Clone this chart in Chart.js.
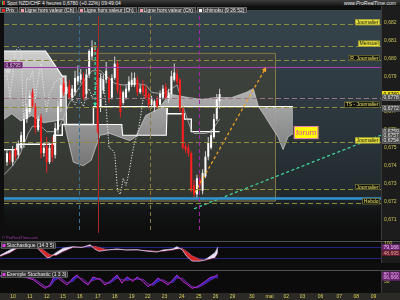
<!DOCTYPE html>
<html lang="fr">
<head>
<meta charset="UTF-8" />
<title>Spot NZD/CHF 4 heures</title>
<script src="https://cdn.jsdelivr.net/npm/chart.js"></script>
<style>
  body { margin: 0; width: 400px; height: 300px; overflow: hidden; background: #0e0e0e;
         font-family: "Liberation Sans", Arial, sans-serif; position: relative; }
  canvas { position: absolute; left: 0; }
  #mainChart { top: 6px; }
  #stochChart { top: 241px; }
  #exampleChart { top: 270px; }
  .titlebar { position: absolute; top: 0; left: 0; width: 400px; height: 6px; z-index: 2;
              background: linear-gradient(#3d3d3d, #141414); color: #f2f2f2; font-size: 5px; line-height: 6px; }
  .titlebar .ico { display: inline-block; width: 3px; height: 4px; margin: 1px 2px 0 2px; vertical-align: top;
                   background: linear-gradient(90deg, #2fbf3a 50%, #e03030 50%); }
  .titlebar .site { position: absolute; right: 4px; top: 0; font-style: italic; }
  .legend { position: absolute; top: 7px; left: 0; height: 5px; z-index: 2; display: flex; gap: 1px; }
  .legend span { display: flex; align-items: center; height: 4px; padding: 0 2px 0 1px; background: #3b3d3e;
                 border: 0.5px solid #6a6a6a; color: #ececec; font-size: 5px; white-space: nowrap; }
  .legend i { display: inline-block; width: 3px; height: 3px; margin-right: 1px; }
  .copy { position: absolute; left: 2px; top: 235px; z-index: 2; color: #a03aa8; font-size: 4px; }
</style>
</head>
<body>
<div class="titlebar"><b class="ico"></b>Spot NZD/CHF 4 heures 0,6780 (+0.22%) 09:49:04<span class="site">www.ProRealTime.com</span></div>
<canvas id="mainChart" width="400" height="234"></canvas>
<div class="legend">
  <span><i style="background:#e02020"></i>Prix</span>
  <span><i style="background:#f0a0a8"></i>Ligne hors valeur (Ch)</span>
  <span><i style="background:#f0a0a8"></i>Ligne hors valeur (Ch)</span>
  <span><i style="background:#f0a0a8"></i>Ligne hors valeur (Ch)</span>
  <span><i style="background:#ffffff"></i>Ichimoku (9 26 52)</span>
</div>
<div class="copy">© ProRealTime.com</div>
<canvas id="stochChart" width="400" height="29"></canvas>
<canvas id="exampleChart" width="400" height="30"></canvas>

<script>
  // ---- data (bar index = one 4 hour candle) ----
  const dayLabels = ["10","11","12","15","16","17","18","19","22","23","24","25","26","29","30","mai","02","03","06","07","08","09"];
  const dayTickIdx = [3.5,9.4,15.3,20.9,26.8,33.1,39,44.9,50.5,56.4,62.4,68.3,74.2,80.1,86.8,93,98.9,104.5,110.8,117.4,123.3,129.3];

  const candleOpen = [
    0.6742,0.6747,0.6742,0.6749,0.6746,0.6750,0.6753,0.6766,0.6770,0.6781,
    0.6773,0.6760,0.6767,0.6747,0.6751,0.6742,0.6752,0.6746,0.6760,0.6773,
    0.6786,0.6780,0.6785,0.6778,0.6781,0.6787,0.6788,0.6789,0.6780,0.6791,
    0.6801,0.6806,0.6804,0.6773,0.6782,0.6788,0.6788,0.6778,0.6789,0.6797,
    0.6782,0.6775,0.6778,0.6782,0.6785,0.6785,0.6788,0.6781,0.6785,0.6783,
    0.6780,0.6774,0.6773,0.6777,0.6774,0.6778,0.6784,0.6777,0.6780,0.6788,
    0.6791,0.6788,0.6772,0.6751,0.6750,0.6747,0.6729,0.6724,0.6733,0.6726,
    0.6734,0.6745,0.6750,0.6756,0.6766,0.6776];
  const candleClose = [
    0.6747,0.6743,0.6749,0.6745,0.6752,0.6757,0.6766,0.6772,0.6779,0.6773,
    0.6761,0.6766,0.6747,0.6750,0.6742,0.6750,0.6745,0.6761,0.6773,0.6785,
    0.6781,0.6784,0.6778,0.6783,0.6789,0.6790,0.6791,0.6778,0.6791,0.6804,
    0.6806,0.6804,0.6759,0.6789,0.6788,0.6793,0.6777,0.6789,0.6797,0.6782,
    0.6770,0.6781,0.6783,0.6787,0.6788,0.6789,0.6781,0.6783,0.6781,0.6778,
    0.6774,0.6777,0.6776,0.6773,0.6780,0.6783,0.6778,0.6781,0.6790,0.6792,
    0.6787,0.6772,0.6750,0.6749,0.6747,0.6726,0.6724,0.6733,0.6729,0.6736,
    0.6745,0.6753,0.6757,0.6766,0.6777,0.6780];
  const candleHigh = [
    0.6749,0.6748,0.6751,0.6750,0.6754,0.6759,0.6769,0.6775,0.6782,0.6783,
    0.6775,0.6768,0.6769,0.6753,0.6756,0.6753,0.6756,0.6764,0.6776,0.6789,
    0.6789,0.6787,0.6788,0.6785,0.6793,0.6796,0.6794,0.6792,0.6794,0.6805,
    0.6810,0.6809,0.6806,0.6791,0.6791,0.6798,0.6790,0.6791,0.6801,0.6799,
    0.6785,0.6782,0.6785,0.6790,0.6792,0.6792,0.6790,0.6785,0.6788,0.6785,
    0.6781,0.6779,0.6777,0.6779,0.6782,0.6785,0.6786,0.6783,0.6793,0.6797,
    0.6794,0.6789,0.6773,0.6753,0.6752,0.6748,0.6732,0.6735,0.6735,0.6738,
    0.6748,0.6756,0.6760,0.6769,0.6780,0.6783];
  const candleLow = [
    0.6740,0.6741,0.6740,0.6743,0.6744,0.6749,0.6750,0.6764,0.6769,0.6772,
    0.6758,0.6759,0.6744,0.6745,0.6736,0.6741,0.6742,0.6744,0.6758,0.6770,
    0.6779,0.6778,0.6777,0.6776,0.6779,0.6785,0.6786,0.6777,0.6777,0.6789,
    0.6799,0.6802,0.6758,0.6770,0.6780,0.6786,0.6775,0.6777,0.6788,0.6780,
    0.6767,0.6774,0.6777,0.6781,0.6784,0.6784,0.6779,0.6780,0.6779,0.6777,
    0.6772,0.6772,0.6770,0.6772,0.6773,0.6777,0.6777,0.6775,0.6778,0.6787,
    0.6785,0.6770,0.6749,0.6747,0.6745,0.6725,0.6721,0.6722,0.6726,0.6724,
    0.6733,0.6743,0.6749,0.6755,0.6765,0.6772];

  // Ichimoku lines, [bar index, price]
  const tenkan = [[-1.05,0.6735],[2,0.6740],[4.5,0.6746],[6,0.6752],[7.5,0.6758],[9,0.6762],[12,0.6762],[14,0.6759],
    [17,0.6759],[18.5,0.6762],[20,0.6767],[22,0.6775],[26,0.6785],[29,0.6791],[30,0.6793],[33,0.6793],[35,0.6790],
    [38,0.6786],[41,0.6785],[45,0.6786],[49,0.6785],[51,0.6781],[55,0.6780],[58,0.6783],[60,0.6785],[61.5,0.6777],
    [62.5,0.6771],[65,0.6760],[66,0.6758],[70,0.6758],[72,0.6759],[75,0.6766]];
  const kijun = [[-1.05,0.6749],[3.5,0.6749],[3.5,0.6752],[16.5,0.6752],[16.5,0.6757],[19.5,0.6757],[19.5,0.6763],
    [30.5,0.6763],[30.5,0.6773],[56.5,0.6773],[56.5,0.6769],[62.5,0.6769],[62.5,0.6766],[65,0.6766],[65,0.6759],[75,0.6759]];
  const spanA = [[-1.05,0.6766],[1.7,0.6769],[4.9,0.6765],[8.7,0.6768],[12.9,0.6764],[17.1,0.6765],[19.9,0.6766],
    [21.3,0.6756],[23.4,0.6742],[26.9,0.6740],[29.7,0.6743],[32.8,0.6757],[36.3,0.6758],[39.8,0.6756],[43.3,0.6754],
    [45.4,0.6756],[48.9,0.6768],[53.7,0.6772],[57.2,0.6780],[64.2,0.6778],[68.8,0.6777],[73.3,0.6778],[79.2,0.6778],
    [84.5,0.6781],[86.9,0.6783],[88.7,0.6773],[90.8,0.6768],[93.2,0.6762],[95.6,0.6756],[97.4,0.6749],[99.1,0.6756],[100.9,0.6758]];
  const spanB = [[-1.05,0.6804],[13.6,0.6804],[19.5,0.6790],[20.8,0.6790],[21,0.6763],[40.5,0.6763],[40.8,0.6757],
    [56.2,0.6757],[56.5,0.6773],[100.9,0.6773]];
  const chikouShift = 26;

  // drawings on the price panel
  const levelValues = [0.6819, 0.6807, 0.6799, 0.6795, 0.6778, 0.6773, 0.6753, 0.6727, 0.6722, 0.6719];
  const levelNames = ["Journalier", "Mensuel", "R. Journalier", "", "", "TS - Journalier", "Journalier", "Journalier", "", "Hebdo"];
  const levelKinds = ["pivot", "pivot", "pivot", "alert", "cost", "pivot", "pivot", "pivot", "support", "pivot"];
  const vLineIdx = [25.3, 32, 50.6, 67.7];
  const zoneIdx = [-1.05, 94.9];
  const zonePrice = [0.6720, 0.6803];
  const orangeArrow = [[66.3, 0.6725], [91.4, 0.6795]];
  const greenTrend = [[66, 0.6716], [131.9, 0.6757]];
  const cyanArrow = [[31.1, 0.6809], [31.1, 0.6773]];
  const cursorDot = [[0.35, 0.6793]];
  const forumIdx = 101.2, forumPrice = 0.67585;
  const priceTicks = [0.671,0.672,0.673,0.674,0.675,0.676,0.677,0.678,0.679,0.680,0.681,0.682];
  const axisMarks = [0.6780, 0.6778, 0.6772, 0.6759, 0.6757, 0.6754];

  // oscillators, [bar index, value]
  const stochK = [[-1.05,36],[2.4,64],[4.9,84],[9.4,86],[11.9,76],[14,45],[15.4,24],[16.4,26],[18.5,50],[21,74],
    [24.4,82],[27.6,78],[30.4,92],[32,70],[33.5,58],[36.3,64],[39.8,70],[43.3,64],[46.8,66],[50.3,58],[53.8,54],
    [55.8,64],[59.3,70],[60.7,82],[62.5,66],[64.2,30],[66,6],[68.8,6],[70.5,12],[74,50],[75,79.166]];
  const stochD = [[-1.05,30],[2.4,50],[4.9,72],[9.4,84],[11.9,82],[14,66],[15.4,50],[16.4,40],[18.5,36],[21,56],
    [24.4,78],[27.6,80],[30.4,84],[32,84],[33.5,78],[36.3,66],[39.8,66],[43.3,66],[46.8,65],[50.3,62],[53.8,58],
    [55.8,58],[59.3,64],[60.7,70],[62.5,72],[64.2,56],[66,34],[68.8,14],[70.5,10],[74,24],[75,48.695]];
  const exFast = [[-1.05,75],[2,75],[5,72],[7.5,70],[10.5,58],[12.9,35],[14.7,20],[16.4,35],[18.1,78],[19.9,58],
    [22.3,35],[24.4,65],[25.8,78],[27.9,50],[29.7,35],[31.4,70],[33.9,58],[35.6,35],[37.3,50],[39.8,78],[41.5,43],
    [43.3,70],[45.4,50],[46.8,70],[48.9,50],[50.6,27],[52.4,43],[54.1,65],[55.8,50],[57.6,35],[59.3,58],[60.7,78],
    [62.8,50],[64.2,38],[66,20],[67.7,27],[68.8,35],[70.5,50],[72.3,67],[74,73],[75,80]];
  const exSlow = [[-1.05,72],[2,74],[5,74],[7.5,72],[10.5,64],[12.9,45],[14.7,28],[16.4,28],[18.1,55],[19.9,68],
    [22.3,45],[24.4,50],[25.8,68],[27.9,62],[29.7,42],[31.4,55],[33.9,64],[35.6,45],[37.3,42],[39.8,65],[41.5,58],
    [43.3,55],[45.4,60],[46.8,60],[48.9,60],[50.6,40],[52.4,33],[54.1,50],[55.8,58],[57.6,45],[59.3,45],[60.7,65],
    [62.8,64],[64.2,45],[66,28],[67.7,22],[68.8,28],[70.5,40],[72.3,55],[74,66],[75,66.666]];

  // ---- layout / style ----
  const xMin = -1.05, xMax = 131.93;
  const AXIS_W = 19;
  const FONT = '"Liberation Sans", Arial, sans-serif';
  Chart.defaults.font.family = FONT;
  Chart.defaults.animation = false;
  Chart.defaults.events = [];
  Chart.defaults.plugins.legend.display = false;
  Chart.defaults.plugins.tooltip.enabled = false;

  const levelStyles = {
    pivot: { color: "#8f8c3a", dash: [5, 3], width: 1 },
    alert: { color: "#a83cb4", dash: [], width: 1 },
    cost: { color: "#9a7484", dash: [5, 3], width: 1 },
    support: { color: "#2f93d4", dash: [], width: 2.5 }
  };
  const tagDark = [false, false, true, false, false, true, false, true, false, true];
  const vLineStyles = [
    { color: "#3b6e8f", dash: [4, 3] }, { color: "#a82a2a", dash: [] },
    { color: "#8a7a3c", dash: [4, 3] }, { color: "#a424a8", dash: [4, 3] }
  ];

  const pts = arr => arr.map(p => ({ x: p[0], y: p[1] }));
  const fmt = (v, d) => v.toFixed(d).replace(".", ",");

  function tag(ctx, text, x, yTop, h, bg, fg, border, alignRight, size) {
    ctx.font = (size || 5) + "px " + FONT;
    const w = ctx.measureText(text).width + 3;
    const x0 = alignRight ? x - w : x;
    ctx.fillStyle = bg;
    ctx.fillRect(x0, yTop, w, h);
    if (border) {
      ctx.strokeStyle = border;
      ctx.lineWidth = 0.6;
      ctx.strokeRect(x0 + 0.3, yTop + 0.3, w - 0.6, h - 0.6);
    }
    ctx.fillStyle = fg;
    ctx.textAlign = "left";
    ctx.textBaseline = "middle";
    ctx.fillText(text, x0 + 1.5, yTop + h / 2 + 0.4);
    return w;
  }

  function arrowHead(ctx, x0, y0, x1, y1, size, color) {
    const a = Math.atan2(y1 - y0, x1 - x0);
    ctx.fillStyle = color;
    ctx.beginPath();
    ctx.moveTo(x1, y1);
    ctx.lineTo(x1 - size * Math.cos(a - 0.5), y1 - size * Math.sin(a - 0.5));
    ctx.lineTo(x1 - size * Math.cos(a + 0.5), y1 - size * Math.sin(a + 0.5));
    ctx.closePath();
    ctx.fill();
  }

  function axisY(min, max, ticks, decimals) {
    return {
      position: "right", min, max,
      grid: { display: false, drawTicks: false }, border: { display: false },
      ticks: { color: "#cfc85a", font: { size: 5 }, padding: 3, callback: v => fmt(v, decimals) },
      afterBuildTicks: s => { s.ticks = ticks.map(v => ({ value: v })); },
      afterFit: s => { s.width = AXIS_W; s.paddingTop = 0; s.paddingBottom = 0; }
    };
  }
  function axisX(show) {
    return {
      type: "linear", min: xMin, max: xMax, offset: false, display: show,
      grid: { display: false, drawTicks: false }, border: { display: false },
      ticks: { color: "#d8cf55", font: { size: 5 }, padding: 1, maxRotation: 0, autoSkip: false,
               callback: (v, i) => dayLabels[i] },
      afterBuildTicks: s => { s.ticks = dayTickIdx.map(v => ({ value: v })); },
      afterFit: s => { s.height = 7; s.paddingLeft = 0; s.paddingRight = 0; }
    };
  }

  // ---- price panel ----
  const mainCanvas = document.getElementById("mainChart");
  const mctx = mainCanvas.getContext("2d");
  const cloudFill = mctx.createLinearGradient(0, 40, 0, 165);
  cloudFill.addColorStop(0, "rgba(222,222,222,0.92)");
  cloudFill.addColorStop(1, "rgba(118,118,118,0.92)");

  const bull = candleOpen.map((o, i) => candleClose[i] >= o);
  const chikou = candleClose.map((c, i) => ({ x: i - chikouShift, y: c }));

  const mainDecor = {
    id: "mainDecor",
    beforeDraw(chart) {
      const { ctx, chartArea: a } = chart;
      const g = ctx.createLinearGradient(0, a.top, 0, a.bottom);
      g.addColorStop(0, "#36444c");
      g.addColorStop(0.55, "#2a353b");
      g.addColorStop(0.84, "#20282c");
      g.addColorStop(0.9, "#121415");
      g.addColorStop(1, "#0d0d0d");
      ctx.save();
      ctx.fillStyle = g;
      ctx.fillRect(a.left, a.top, a.right - a.left, a.bottom - a.top);
      ctx.fillStyle = "#1c1c1c";
      ctx.fillRect(a.right, 0, chart.width - a.right, chart.height);
      ctx.fillStyle = "#3a3a3a";
      ctx.fillRect(a.right, 0, 1, chart.height);
      ctx.restore();
    },
    beforeDatasetsDraw(chart) {
      const { ctx, scales: { x, y } } = chart;
      const x0 = x.getPixelForValue(zoneIdx[0]), x1 = x.getPixelForValue(zoneIdx[1]);
      const yT = y.getPixelForValue(zonePrice[1]), yB = y.getPixelForValue(zonePrice[0]);
      ctx.save();
      ctx.fillStyle = "rgba(82,76,50,0.36)";
      ctx.fillRect(x0, yT, x1 - x0, yB - yT);
      ctx.strokeStyle = "#857a4a";
      ctx.lineWidth = 1;
      ctx.beginPath();
      ctx.moveTo(x0, yT + 0.5); ctx.lineTo(x1 - 0.5, yT + 0.5);
      ctx.lineTo(x1 - 0.5, yB - 0.5); ctx.lineTo(x0, yB - 0.5);
      ctx.stroke();
      ctx.restore();
    },
    afterDatasetsDraw(chart) {
      const { ctx, chartArea: a, scales: { x, y } } = chart;
      ctx.save();
      // horizontal levels
      levelValues.forEach((v, i) => {
        const st = levelStyles[levelKinds[i]];
        const ly = Math.round(y.getPixelForValue(v)) + 0.5;
        ctx.strokeStyle = st.color;
        ctx.lineWidth = st.width;
        ctx.setLineDash(st.dash);
        ctx.beginPath(); ctx.moveTo(a.left, ly); ctx.lineTo(a.right, ly); ctx.stroke();
      });
      // vertical markers
      vLineIdx.forEach((v, i) => {
        const lx = Math.round(x.getPixelForValue(v)) + 0.5;
        ctx.strokeStyle = vLineStyles[i].color;
        ctx.lineWidth = 1;
        ctx.setLineDash(vLineStyles[i].dash);
        ctx.beginPath(); ctx.moveTo(lx, a.top + 6); ctx.lineTo(lx, a.bottom); ctx.stroke();
      });
      ctx.setLineDash([]);
      // arrow heads
      const P = p => [x.getPixelForValue(p[0]), y.getPixelForValue(p[1])];
      let s = P(orangeArrow[0]), e = P(orangeArrow[1]);
      arrowHead(ctx, s[0], s[1], e[0], e[1], 5, "#f5a623");
      s = P(cyanArrow[0]); e = P(cyanArrow[1]);
      arrowHead(ctx, s[0], s[1], e[0], e[1], 4, "#35e0b0");
      // level names on the right
      levelValues.forEach((v, i) => {
        if (!levelNames[i]) return;
        const ly = y.getPixelForValue(v);
        if (tagDark[i]) tag(ctx, levelNames[i], a.right - 1, ly - 5, 6, "#111", "#e6e060", "#8f8c3a", true);
        else tag(ctx, levelNames[i], a.right - 1, ly - 5, 6, "#e8e23a", "#111", "#8f8c3a", true);
      });
      // alert value at left
      const iAlert = levelKinds.indexOf("alert");
      tag(ctx, fmt(levelValues[iAlert], 4), a.left, y.getPixelForValue(levelValues[iAlert]) - 5, 6,
          "#4e1a50", "#f0c8f0", "#a83cb4", false);
      // forum note
      const fx = x.getPixelForValue(forumIdx), fy = y.getPixelForValue(forumPrice);
      ctx.font = "8px " + FONT;
      const fw = ctx.measureText("forum").width + 4;
      ctx.fillStyle = "#ffff00";
      ctx.fillRect(fx, fy - 6.5, fw, 13);
      ctx.strokeStyle = "#e27ab8";
      ctx.lineWidth = 1;
      ctx.strokeRect(fx + 0.5, fy - 6, fw - 1, 12);
      ctx.fillStyle = "#e04aa0";
      ctx.textAlign = "left";
      ctx.textBaseline = "middle";
      ctx.fillText("forum", fx + 2, fy + 0.5);
      ctx.restore();
    },
    afterDraw(chart) {
      const { ctx, chartArea: a, scales: { y } } = chart;
      ctx.save();
      axisMarks.forEach((v, i) => {
        const yc = y.getPixelForValue(v);
        if (i === 0) tag(ctx, fmt(v, 4), a.right + 1, yc - 3, 6, "#f2e21e", "#000", null, false);
        else tag(ctx, fmt(v, 4), a.right + 1, yc - 3, 6, "#4a4a4a", "#e8e8e8", "#777", false);
      });
      ctx.restore();
    }
  };

  new Chart(mainCanvas, {
    type: "line",
    data: {
      datasets: [
        { data: pts(spanA), borderColor: "#d2d2d2", borderWidth: 0.7, pointRadius: 0, order: 9,
          fill: { target: 1, above: cloudFill, below: cloudFill } },
        { data: pts(spanB), borderColor: "#ffffff", borderWidth: 1.1, pointRadius: 0, fill: false, order: 8 },
        { data: pts(tenkan), borderColor: "#bdbdbd", borderWidth: 0.8, pointRadius: 0, fill: false, order: 6 },
        { data: pts(kijun), borderColor: "#ffffff", borderWidth: 1.4, pointRadius: 0, fill: false, order: 6 },
        { data: chikou, borderColor: "#e8e8e8", borderWidth: 1, borderDash: [1.2, 1.6], pointRadius: 0,
          fill: false, order: 5 },
        { type: "bar", grouped: false, maxBarThickness: 1, order: 3,
          data: candleLow.map((l, i) => ({ x: i, y: [l, candleHigh[i]] })),
          backgroundColor: bull.map(b => b ? "#d6d6d6" : "#e02424") },
        { type: "bar", grouped: false, maxBarThickness: 2, minBarLength: 1, order: 2,
          data: candleOpen.map((o, i) => ({ x: i, y: [o, candleClose[i]] })),
          backgroundColor: bull.map(b => b ? "#ffffff" : "#ff1e1e") },
        { data: pts(orangeArrow), borderColor: "#f5a623", borderWidth: 1.2, borderDash: [3, 2.5],
          pointRadius: 0, fill: false, order: 1 },
        { data: pts(greenTrend), borderColor: "#3fe0a4", borderWidth: 1.2, borderDash: [3, 2.5],
          pointRadius: 0, fill: false, order: 1 },
        { data: pts(cyanArrow), borderColor: "#35e0b0", borderWidth: 1.2, borderDash: [3, 2],
          pointRadius: 0, fill: false, order: 1 },
        { data: pts(cursorDot), showLine: false, pointRadius: 2.5, pointBackgroundColor: "rgba(215,215,215,0.9)",
          pointBorderWidth: 0, order: 1 }
      ]
    },
    options: {
      responsive: false,
      layout: { padding: 0 },
      scales: { x: axisX(false), y: axisY(0.670243, 0.682692, priceTicks, 3) }
    },
    plugins: [mainDecor]
  });

  // ---- oscillator panels ----
  function panelDecor(title, refLevels, marks, bottomBand) {
    return {
      id: "panelDecor",
      beforeDraw(chart) {
        const { ctx, chartArea: a, scales: { y } } = chart;
        ctx.save();
        ctx.fillStyle = "#0b0b0b";
        ctx.fillRect(a.left, a.top, a.right - a.left, a.bottom - a.top);
        ctx.fillStyle = "#1c1c1c";
        ctx.fillRect(a.right, 0, chart.width - a.right, a.bottom);
        ctx.fillStyle = "#3a3a3a";
        ctx.fillRect(a.right, 0, 1, a.bottom);
        if (bottomBand) {
          ctx.fillStyle = "#2b2a26";
          ctx.fillRect(0, a.bottom, chart.width, chart.height - a.bottom);
        }
        ctx.fillStyle = "#505050";
        ctx.fillRect(0, a.top, chart.width, 1);
        ctx.strokeStyle = "#24247c";
        ctx.lineWidth = 1;
        refLevels.forEach(v => {
          const ly = Math.round(y.getPixelForValue(v)) + 0.5;
          ctx.beginPath(); ctx.moveTo(a.left, ly); ctx.lineTo(a.right, ly); ctx.stroke();
        });
        ctx.restore();
      },
      afterDatasetsDraw(chart) {
        const { ctx, chartArea: a } = chart;
        ctx.save();
        tag(ctx, "   " + title, a.left + 1, a.top + 1.5, 6, "#2c2c2c", "#eeeeee", "#8a8a8a", false);
        ctx.fillStyle = "#e040e0";
        ctx.fillRect(a.left + 2.5, a.top + 3, 3, 3);
        ctx.restore();
      },
      afterDraw(chart) {
        const { ctx, chartArea: a, scales: { y } } = chart;
        ctx.save();
        marks.forEach(m => {
          tag(ctx, fmt(m.v, 3), a.right + 1, y.getPixelForValue(m.v) - 3, 6, m.bg, m.fg, null, false);
        });
        ctx.restore();
      }
    };
  }

  new Chart(document.getElementById("stochChart"), {
    type: "line",
    data: {
      datasets: [
        { data: pts(stochK), borderColor: "#d9ccf2", borderWidth: 0.8, pointRadius: 0,
          fill: { target: 1, above: "#e6e0f6", below: "#d82626" } },
        { data: pts(stochD), borderColor: "#8a3a72", borderWidth: 0.8, pointRadius: 0, fill: false }
      ]
    },
    options: {
      responsive: false,
      layout: { padding: 0 },
      scales: { x: axisX(false), y: axisY(-4, 112, [100], 0) }
    },
    plugins: [panelDecor("Stochastique (14 3 5)", [80, 20],
      [{ v: stochK[stochK.length - 1][1], bg: "#6a2470", fg: "#f4c4f4" },
       { v: stochD[stochD.length - 1][1], bg: "#5a1c2a", fg: "#f0a0a0" }], false)]
  });

  new Chart(document.getElementById("exampleChart"), {
    type: "line",
    data: {
      datasets: [
        { data: pts(exFast), borderColor: "#c02cd0", borderWidth: 1, pointRadius: 0,
          fill: { target: 1, above: "#2626c4", below: "rgba(90,30,120,0.45)" } },
        { data: pts(exSlow), borderColor: "#7a2a9a", borderWidth: 1, pointRadius: 0, fill: false }
      ]
    },
    options: {
      responsive: false,
      layout: { padding: 0 },
      scales: { x: axisX(true), y: axisY(0, 100, [50], 0) }
    },
    plugins: [panelDecor("Exemple Stochastic (1 3 3)", [],
      [{ v: exFast[exFast.length - 1][1], bg: "#6a2470", fg: "#f4b4f4" },
       { v: exSlow[exSlow.length - 1][1], bg: "#6a2470", fg: "#f4b4f4" }], true)]
  });
</script>
</body>
</html>
